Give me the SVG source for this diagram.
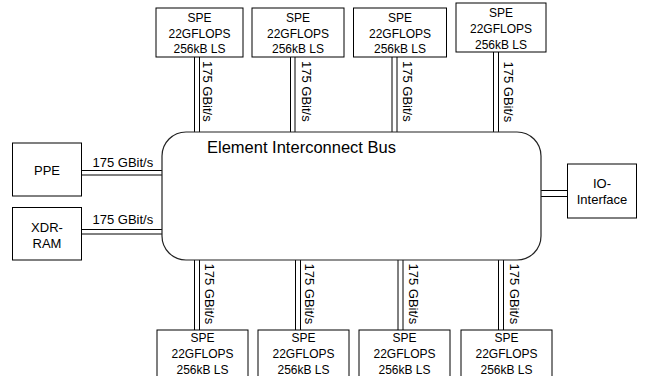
<svg xmlns="http://www.w3.org/2000/svg" width="646" height="376" viewBox="0 0 646 376">
<style>
.box{fill:#fff;stroke:#000;stroke-width:1}
.bus{fill:#fff;stroke:#222;stroke-width:1.2}
.t12{font-family:"Liberation Sans",Arial,sans-serif;font-size:12px;fill:#000;text-anchor:middle}
.t13{font-family:"Liberation Sans",Arial,sans-serif;font-size:13px;fill:#000;text-anchor:middle}
.lbl{font-family:"Liberation Sans",Arial,sans-serif;font-size:13px;fill:#000}
.title{font-family:"Liberation Sans",Arial,sans-serif;font-size:16.5px;fill:#000}
.ln{stroke:#000;stroke-width:1;fill:none}
</style>
<rect width="646" height="376" fill="#fff"/>
<g id="connectors">
<line class="ln" x1="194.5" y1="57" x2="194.5" y2="132"/><line class="ln" x1="199.5" y1="57" x2="199.5" y2="132"/>
<line class="ln" x1="290.5" y1="57" x2="290.5" y2="132"/><line class="ln" x1="295" y1="57" x2="295" y2="132"/>
<line class="ln" x1="392" y1="57" x2="392" y2="132"/><line class="ln" x1="397" y1="57" x2="397" y2="132"/>
<line class="ln" x1="493.5" y1="52" x2="493.5" y2="132"/><line class="ln" x1="498.5" y1="52" x2="498.5" y2="132"/>
<line class="ln" x1="194.5" y1="260" x2="194.5" y2="330"/><line class="ln" x1="199.5" y1="260" x2="199.5" y2="343"/>
<line class="ln" x1="295.5" y1="260" x2="295.5" y2="330"/><line class="ln" x1="300.5" y1="260" x2="300.5" y2="343"/>
<line class="ln" x1="398" y1="260" x2="398" y2="330"/><line class="ln" x1="403" y1="260" x2="403" y2="343"/>
<line class="ln" x1="498.5" y1="260" x2="498.5" y2="330"/><line class="ln" x1="503.5" y1="260" x2="503.5" y2="343"/>
<line class="ln" x1="82" y1="170.5" x2="162" y2="170.5"/><line class="ln" x1="82" y1="175" x2="162" y2="175"/>
<line class="ln" x1="82" y1="229.5" x2="162" y2="229.5"/><line class="ln" x1="82" y1="234" x2="162" y2="234"/>
<line class="ln" x1="541" y1="190.5" x2="567" y2="190.5"/><line class="ln" x1="541" y1="196.5" x2="567" y2="196.5"/>
<text class="lbl" transform="translate(203,61) rotate(90)">175 GBit/s</text>
<text class="lbl" transform="translate(301.5,61) rotate(90)">175 GBit/s</text>
<text class="lbl" transform="translate(403,61) rotate(90)">175 GBit/s</text>
<text class="lbl" transform="translate(504,61.5) rotate(90)">175 GBit/s</text>
<text class="lbl" transform="translate(205,263.5) rotate(90)">175 GBit/s</text>
<text class="lbl" transform="translate(305,263.5) rotate(90)">175 GBit/s</text>
<text class="lbl" transform="translate(408.5,263.5) rotate(90)">175 GBit/s</text>
<text class="lbl" transform="translate(510,263.5) rotate(90)">175 GBit/s</text>
<text class="lbl" x="92.5" y="166.5">175 GBit/s</text>
<text class="lbl" x="92.5" y="224">175 GBit/s</text>
</g>
<g id="bus">
<rect class="bus" x="162" y="132" width="379" height="128" rx="24" ry="24"/>
<text class="title" x="207" y="152.5">Element Interconnect Bus</text>
</g>
<g id="spe-top-1"><rect class="box" x="156" y="8" width="87" height="49"/><text class="t12" x="199.5" y="21.5">SPE</text><text class="t12" x="199.5" y="37.5">22GFLOPS</text><text class="t12" x="199.5" y="53">256kB LS</text></g>
<g id="spe-top-2"><rect class="box" x="252" y="8" width="92" height="49"/><text class="t12" x="298" y="21.5">SPE</text><text class="t12" x="298" y="37.5">22GFLOPS</text><text class="t12" x="298" y="53">256kB LS</text></g>
<g id="spe-top-3"><rect class="box" x="353.5" y="8" width="93" height="49"/><text class="t12" x="400" y="21.5">SPE</text><text class="t12" x="400" y="37.5">22GFLOPS</text><text class="t12" x="400" y="53">256kB LS</text></g>
<g id="spe-top-4"><rect class="box" x="456" y="3" width="90" height="49"/><text class="t12" x="501" y="17">SPE</text><text class="t12" x="501" y="33">22GFLOPS</text><text class="t12" x="501" y="48.5">256kB LS</text></g>
<g id="spe-bot-1"><rect class="box" x="157" y="330" width="91" height="55"/><text class="t12" x="202.5" y="341.5">SPE</text><text class="t12" x="202.5" y="358">22GFLOPS</text><text class="t12" x="202.5" y="374">256kB LS</text></g>
<g id="spe-bot-2"><rect class="box" x="258" y="330" width="91" height="55"/><text class="t12" x="303.5" y="341.5">SPE</text><text class="t12" x="303.5" y="358">22GFLOPS</text><text class="t12" x="303.5" y="374">256kB LS</text></g>
<g id="spe-bot-3"><rect class="box" x="359" y="330" width="91" height="55"/><text class="t12" x="404.5" y="341.5">SPE</text><text class="t12" x="404.5" y="358">22GFLOPS</text><text class="t12" x="404.5" y="374">256kB LS</text></g>
<g id="spe-bot-4"><rect class="box" x="461" y="330" width="91" height="55"/><text class="t12" x="506.5" y="341.5">SPE</text><text class="t12" x="506.5" y="358">22GFLOPS</text><text class="t12" x="506.5" y="374">256kB LS</text></g>
<g id="ppe"><rect class="box" x="12.5" y="143" width="69" height="53"/><text class="t13" x="47" y="174.5">PPE</text></g>
<g id="xdr-ram"><rect class="box" x="12.5" y="207.5" width="69" height="52.5"/><text class="t13" x="47" y="232">XDR-</text><text class="t13" x="47" y="247.5">RAM</text></g>
<g id="io-interface"><rect class="box" x="567.5" y="164" width="69" height="54"/><text class="t13" x="602" y="187.5">IO-</text><text class="t13" x="602" y="204">Interface</text></g>
</svg>
